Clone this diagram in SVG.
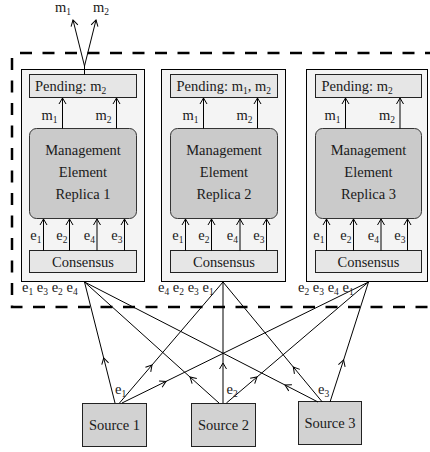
<svg xmlns="http://www.w3.org/2000/svg" width="430" height="452" viewBox="0 0 430 452">
<defs>
<marker id="ah" markerUnits="userSpaceOnUse" markerWidth="10" markerHeight="10" refX="0" refY="0" orient="auto" overflow="visible">
<path d="M-6,-3.5 L0,0 L-6,3.5" fill="none" stroke="#000" stroke-width="1"/>
</marker>
<style>
.t{font-family:'Liberation Serif','Times New Roman',serif;font-size:14.5px;fill:#1a1a1a}
.c{text-anchor:middle}
.e{text-anchor:end}
.s{font-size:9.5px}
.outer{fill:#f4f4f4;stroke:#000;stroke-width:1}
.light{fill:#e6e6e6;stroke:#222;stroke-width:1}
.mgmt{fill:#cacaca;stroke:#333;stroke-width:1}
.src{fill:#d2d2d2;stroke:#222;stroke-width:1}
.ln{fill:none;stroke:#000;stroke-width:1}
.arr{marker-end:url(#ah)}
.mid{marker-mid:url(#ah)}
.dash{fill:none;stroke:#000;stroke-width:2.5;stroke-dasharray:12 10.5}
</style>
</defs>
<rect width="430" height="452" fill="#fff"/>

<g id="frame">
<path class="dash" d="M20,53 H432"/>
<path class="dash" d="M12,58 V307 H432"/>
</g>

<g id="replica1">
<rect class="outer" x="21.5" y="69.5" width="123" height="212"/>
<g id="pending1"><rect class="light" x="29.5" y="74.5" width="107" height="23"/>
<text class="t" x="35" y="91">Pending: m<tspan class="s" dy="3">2</tspan></text></g>
<g id="mgmt1"><rect class="mgmt" x="29.5" y="128.5" width="107" height="90" rx="7"/>
<text class="t c" x="83" y="155">Management</text><text class="t c" x="83" y="177">Element</text><text class="t c" x="83" y="199">Replica 1</text></g>
<g id="consensus1"><rect class="light" x="29.5" y="250.5" width="107" height="22"/>
<text class="t c" x="83" y="266.5">Consensus</text></g>
</g>

<g id="replica2">
<rect class="outer" x="161.5" y="69.5" width="124" height="212"/>
<g id="pending2"><rect class="light" x="170.5" y="74.5" width="107" height="23"/>
<text class="t" x="176.5" y="91">Pending: m<tspan class="s" dy="3">1</tspan><tspan dy="-3">, m</tspan><tspan class="s" dy="3">2</tspan></text></g>
<g id="mgmt2"><rect class="mgmt" x="170.5" y="128.5" width="107" height="90" rx="7"/>
<text class="t c" x="224" y="155">Management</text><text class="t c" x="224" y="177">Element</text><text class="t c" x="224" y="199">Replica 2</text></g>
<g id="consensus2"><rect class="light" x="170.5" y="250.5" width="107" height="22"/>
<text class="t c" x="224" y="266.5">Consensus</text></g>
</g>

<g id="replica3">
<rect class="outer" x="306.5" y="69.5" width="121" height="212"/>
<g id="pending3"><rect class="light" x="315.5" y="74.5" width="106" height="23"/>
<text class="t" x="321.5" y="91">Pending: m<tspan class="s" dy="3">2</tspan></text></g>
<g id="mgmt3"><rect class="mgmt" x="315.5" y="128.5" width="106" height="90" rx="7"/>
<text class="t c" x="368.5" y="155">Management</text><text class="t c" x="368.5" y="177">Element</text><text class="t c" x="368.5" y="199">Replica 3</text></g>
<g id="consensus3"><rect class="light" x="315.5" y="250.5" width="106" height="22"/>
<text class="t c" x="368.5" y="266.5">Consensus</text></g>
</g>

<g id="source1"><rect class="src" x="82.5" y="403.5" width="64" height="43"/><text class="t c" x="114.5" y="430">Source 1</text></g>
<g id="source2"><rect class="src" x="191.5" y="403.5" width="64" height="43"/><text class="t c" x="223.5" y="430">Source 2</text></g>
<g id="source3"><rect class="src" x="298.5" y="401.5" width="63" height="43"/><text class="t c" x="330" y="428">Source 3</text></g>

<g id="connectors">
<path class="ln arr" d="M84.5,74.5 V66 L73,20"/>
<path class="ln arr" d="M84.5,66 L96,20"/>

<path class="ln arr" d="M62.5,128.5 V98"/>
<path class="ln arr" d="M116.5,128.5 V98"/>
<path class="ln arr" d="M43.5,250.5 V219"/>
<path class="ln arr" d="M69.5,250.5 V219"/>
<path class="ln arr" d="M97,250.5 V219"/>
<path class="ln arr" d="M124.5,250.5 V219"/>

<path class="ln arr" d="M203.5,128.5 V98"/>
<path class="ln arr" d="M257.5,128.5 V98"/>
<path class="ln arr" d="M185.5,250.5 V219"/>
<path class="ln arr" d="M211.5,250.5 V219"/>
<path class="ln arr" d="M240,250.5 V219"/>
<path class="ln arr" d="M266.5,250.5 V219"/>

<path class="ln arr" d="M345.5,128.5 V98"/>
<path class="ln arr" d="M400,128.5 V98"/>
<path class="ln arr" d="M326.5,250.5 V219"/>
<path class="ln arr" d="M353.5,250.5 V219"/>
<path class="ln arr" d="M381,250.5 V219"/>
<path class="ln arr" d="M407.5,250.5 V219"/>

<path class="ln mid" d="M115,403 L103.7,358 L84.5,282"/>
<path class="ln mid" d="M119.5,403 L152,365 L223,282"/>
<path class="ln mid" d="M122,403 L166,381.4 L368.5,282"/>
<path class="ln mid" d="M219,403 L190,377 L84.5,282"/>
<path class="ln mid" d="M223,403 L223,363 L223,282"/>
<path class="ln mid" d="M226.4,403 L257,377 L368.5,282"/>
<path class="ln mid" d="M318,402 L285,385 L84.5,282"/>
<path class="ln mid" d="M322.3,402 L293.3,367 L223,282"/>
<path class="ln mid" d="M330,402 L343.6,360 L368.5,282"/>
</g>

<g id="labels">
<text class="t" x="55" y="12">m<tspan class="s" dy="3">1</tspan></text>
<text class="t" x="93" y="12">m<tspan class="s" dy="3">2</tspan></text>

<text class="t e" x="57.5" y="120">m<tspan class="s" dy="3">1</tspan></text>
<text class="t e" x="111.5" y="120">m<tspan class="s" dy="3">2</tspan></text>
<text class="t e" x="198.5" y="120">m<tspan class="s" dy="3">1</tspan></text>
<text class="t e" x="252.5" y="120">m<tspan class="s" dy="3">2</tspan></text>
<text class="t e" x="340.5" y="120">m<tspan class="s" dy="3">1</tspan></text>
<text class="t e" x="395" y="120">m<tspan class="s" dy="3">2</tspan></text>

<text class="t e" x="41.5" y="240">e<tspan class="s" dy="3">1</tspan></text>
<text class="t e" x="67.5" y="240">e<tspan class="s" dy="3">2</tspan></text>
<text class="t e" x="95" y="240">e<tspan class="s" dy="3">4</tspan></text>
<text class="t e" x="122.5" y="240">e<tspan class="s" dy="3">3</tspan></text>
<text class="t e" x="183.5" y="240">e<tspan class="s" dy="3">1</tspan></text>
<text class="t e" x="209.5" y="240">e<tspan class="s" dy="3">2</tspan></text>
<text class="t e" x="238" y="240">e<tspan class="s" dy="3">4</tspan></text>
<text class="t e" x="264.5" y="240">e<tspan class="s" dy="3">3</tspan></text>
<text class="t e" x="324.5" y="240">e<tspan class="s" dy="3">1</tspan></text>
<text class="t e" x="351.5" y="240">e<tspan class="s" dy="3">2</tspan></text>
<text class="t e" x="379" y="240">e<tspan class="s" dy="3">4</tspan></text>
<text class="t e" x="405.5" y="240">e<tspan class="s" dy="3">3</tspan></text>

<text class="t" x="22" y="292">e<tspan class="s" dy="3">1</tspan><tspan dy="-3"> e</tspan><tspan class="s" dy="3">3</tspan><tspan dy="-3"> e</tspan><tspan class="s" dy="3">2</tspan><tspan dy="-3"> e</tspan><tspan class="s" dy="3">4</tspan></text>
<text class="t" x="158" y="292">e<tspan class="s" dy="3">4</tspan><tspan dy="-3"> e</tspan><tspan class="s" dy="3">2</tspan><tspan dy="-3"> e</tspan><tspan class="s" dy="3">3</tspan><tspan dy="-3"> e</tspan><tspan class="s" dy="3">1</tspan></text>
<text class="t" x="298" y="292">e<tspan class="s" dy="3">2</tspan><tspan dy="-3"> e</tspan><tspan class="s" dy="3">3</tspan><tspan dy="-3"> e</tspan><tspan class="s" dy="3">4</tspan><tspan dy="-3"> e</tspan><tspan class="s" dy="3">1</tspan></text>

<text class="t" x="115" y="394">e<tspan class="s" dy="3">1</tspan></text>
<text class="t" x="226.5" y="394">e<tspan class="s" dy="3">2</tspan></text>
<text class="t" x="318" y="394">e<tspan class="s" dy="3">3</tspan></text>
</g>
</svg>
